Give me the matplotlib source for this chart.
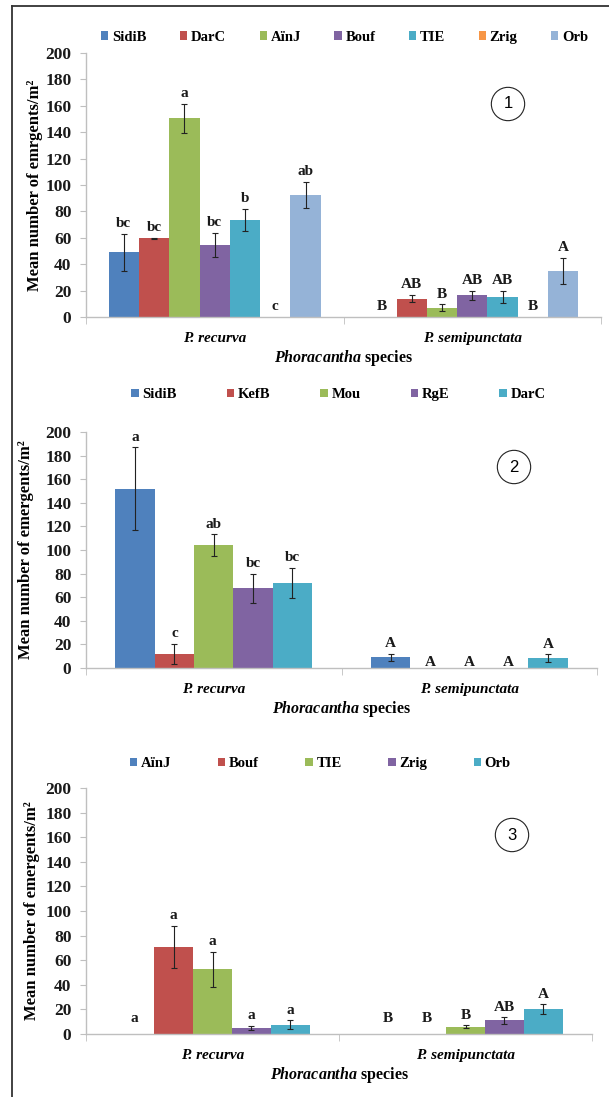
import matplotlib
matplotlib.use('Agg')
import matplotlib.pyplot as plt
from matplotlib.lines import Line2D
from matplotlib.patches import Patch
import numpy as np

plt.rcParams['font.family'] = ['Liberation Serif', 'DejaVu Serif']
plt.rcParams['mathtext.fontset'] = 'custom'
plt.rcParams['mathtext.it'] = 'Liberation Serif:bold:italic'

species = ['P. recurva', 'P. semipunctata']

# panel 1
sites_1 = ['SidiB', 'DarC', 'AïnJ', 'Bouf', 'TIE', 'Zrig', 'Orb']
recurva_1 = [49, 59.5, 150.5, 54.5, 73.5, 0, 92.5]
recurva_err_1 = [14, 0.5, 11, 9, 8, 0, 10]
semi_1 = [0, 14, 7, 16.5, 15, 0, 35]
semi_err_1 = [0, 3, 2.5, 3.5, 4.5, 0, 10]
recurva_letters_1 = ['bc', 'bc', 'a', 'bc', 'b', 'c', 'ab']
semi_letters_1 = ['B', 'AB', 'B', 'AB', 'AB', 'B', 'A']

# panel 2
sites_2 = ['SidiB', 'KefB', 'Mou', 'RgE', 'DarC']
recurva_2 = [152, 12, 104, 67.5, 72]
recurva_err_2 = [35, 8.5, 9.5, 12.5, 13]
semi_2 = [9, 0, 0, 0, 8.5]
semi_err_2 = [3, 0, 0, 0, 3]
recurva_letters_2 = ['a', 'c', 'ab', 'bc', 'bc']
semi_letters_2 = ['A', 'A', 'A', 'A', 'A']

# panel 3
sites_3 = ['AïnJ', 'Bouf', 'TIE', 'Zrig', 'Orb']
recurva_3 = [0, 71, 52.5, 5, 7.5]
recurva_err_3 = [0, 17, 14.5, 1.5, 3.5]
semi_3 = [0, 0, 6, 11, 20]
semi_err_3 = [0, 0, 1, 2.5, 4]
recurva_letters_3 = ['a', 'a', 'a', 'a', 'a']
semi_letters_3 = ['B', 'B', 'B', 'AB', 'A']

excel_colors = ['#4F81BD', '#C0504D', '#9BBB59', '#8064A2', '#4BACC6', '#F79646', '#95B3D7']

AXIS_GREY = '#BFBFBF'

W, H = 609, 1097


def px_rect(left, right, top, bottom):
    # pixel box -> figure fraction rect
    return [left / W, 1 - bottom / H, (right - left) / W, (bottom - top) / H]


def draw_panel(fig, rect, sites, values, errors, letters, ylabel, label_x,
               legend_pos, colspacing, number, number_pos, zero_pad):
    ax = fig.add_axes(rect)
    n = len(sites)
    width = 1.0 / (n + 1.5)
    centers = np.array([0.5, 1.5])

    handles = []
    for i, site in enumerate(sites):
        offset = (i - (n - 1) / 2) * width
        xs = centers + offset
        vals = [values[0][i], values[1][i]]
        errs = [errors[0][i], errors[1][i]]
        ax.bar(xs, vals, width, color=excel_colors[i], linewidth=0, zorder=2)
        handles.append(Patch(facecolor=excel_colors[i], label=site))
        for x, v, e, lab in zip(xs, vals, errs, [letters[0][i], letters[1][i]]):
            if e > 0:
                ax.errorbar(x, v, yerr=e, fmt='none', ecolor='#222222',
                            elinewidth=0.8, capsize=2.5, capthick=0.8, zorder=3)
            top = v + e
            y = top + 3 if top > 0 else zero_pad
            ax.text(x, y, lab, ha='center', va='bottom', fontsize=11,
                    fontweight='bold', color='#1a1a1a')

    ax.set_xlim(0, 2)
    ax.set_ylim(0, 200)
    ax.set_yticks(range(0, 201, 20))
    ax.set_xticks(centers)
    ax.set_xticklabels(species, fontsize=11, fontweight='bold', style='italic')
    ax.set_xticks([0, 1, 2], minor=True)
    ax.tick_params(axis='x', which='major', length=0, pad=11)
    ax.tick_params(axis='x', which='minor', length=5, color=AXIS_GREY, direction='out')
    ax.tick_params(axis='y', length=4, color=AXIS_GREY, direction='out', pad=6.5)
    for t in ax.get_yticklabels():
        t.set_fontweight('bold')
        t.set_fontsize(12.5)
        t.set_color('#1a1a1a')

    for side in ['top', 'right']:
        ax.spines[side].set_visible(False)
    for side in ['left', 'bottom']:
        ax.spines[side].set_color(AXIS_GREY)
        ax.spines[side].set_linewidth(1.0)

    ax.set_xlabel(r'$\mathit{Phoracantha}$ species', fontsize=11.5,
                  fontweight='bold', labelpad=2)
    ax.set_ylabel(ylabel, fontsize=12, fontweight='bold')
    ax.yaxis.set_label_coords(label_x, 0.5)

    ax.legend(handles=handles, loc='center', bbox_to_anchor=legend_pos, ncol=n,
              frameon=False, handlelength=0.5, handleheight=0.5,
              handletextpad=0.25, columnspacing=colspacing,
              prop={'family': 'Liberation Serif', 'weight': 'bold', 'size': 10.5})

    fig.text(number_pos[0] / W, 1 - number_pos[1] / H, number, ha='center',
             va='center', fontsize=12, family='Liberation Sans',
             bbox=dict(boxstyle='circle,pad=0.55', facecolor='white',
                       edgecolor='#222222', linewidth=0.8))
    return ax


def main():
    fig = plt.figure(figsize=(W / 100, H / 100), dpi=100)

    draw_panel(fig, px_rect(86, 601, 53, 317), sites_1,
               [recurva_1, semi_1], [recurva_err_1, semi_err_1],
               [recurva_letters_1, semi_letters_1],
               'Mean number of emrgents/m²', -0.0835,
               (0.502, 1.06), 2.3, '1', (508, 104), 3)

    draw_panel(fig, px_rect(86, 597, 432, 668), sites_2,
               [recurva_2, semi_2], [recurva_err_2, semi_err_2],
               [recurva_letters_2, semi_letters_2],
               'Mean number of emergents/m²', -0.102,
               (0.494, 1.157), 3.44, '2', (514, 467), -1)

    draw_panel(fig, px_rect(86, 592, 788, 1034), sites_3,
               [recurva_3, semi_3], [recurva_err_3, semi_err_3],
               [recurva_letters_3, semi_letters_3],
               'Mean number of emergents/m²', -0.091,
               (0.463, 1.10), 3.2, '3', (512, 835), 7)

    # frame lines along the top and left edge
    fig.add_artist(Line2D([12 / W, 1], [1 - 5.5 / H, 1 - 5.5 / H],
                          color='#333333', linewidth=1.3))
    fig.add_artist(Line2D([12 / W, 12 / W], [0, 1 - 5.5 / H],
                          color='#333333', linewidth=1.3))

    fig.savefig('out.png', dpi=100)


if __name__ == "__main__":
    main()
